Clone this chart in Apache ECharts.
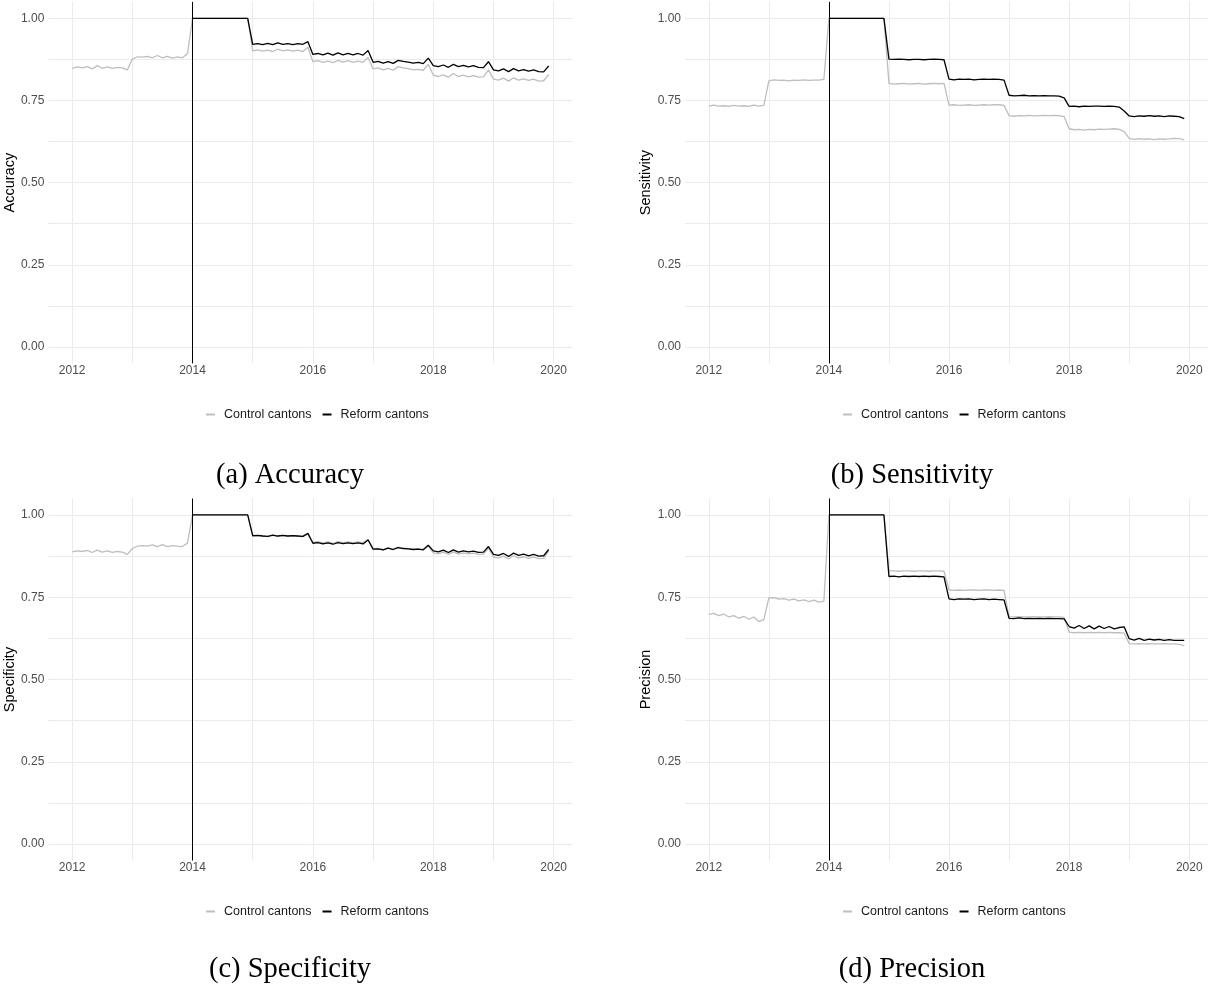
<!DOCTYPE html>
<html>
<head>
<meta charset="utf-8">
<script src="https://cdn.jsdelivr.net/npm/echarts@6/dist/echarts.min.js"></script>
<style>
html,body{margin:0;padding:0;background:#fff;}
#chart{width:1208px;height:987px;}
</style>
</head>
<body>
<div id="chart"></div>
<script>
// ---- data (monthly: control 2012-01..2019-12, reform 2014-01..2019-12) ----
const xTickLabels = [2012, 2014, 2016, 2018, 2020];
const xGridYears = [2012, 2013, 2014, 2015, 2016, 2017, 2018, 2019, 2020];
const yTickLabels = [0, 0.25, 0.5, 0.75, 1];
const yGridValues = [0, 0.125, 0.25, 0.375, 0.5, 0.625, 0.75, 0.875, 1];
const reformYear = 2014;
const seriesNames = ['Control cantons', 'Reform cantons'];
const panelTitles = ['Accuracy', 'Sensitivity', 'Specificity', 'Precision'];
const captions = ['(a) Accuracy', '(b) Sensitivity', '(c) Specificity', '(d) Precision'];

const accControl = [
  0.848,0.852,0.849,0.853,0.846,0.856,0.848,0.852,0.848,0.851,0.849,0.843,
  0.876,0.883,0.882,0.884,0.880,0.887,0.880,0.884,0.879,0.883,0.880,0.893,
  1,1,1,1,1,1,1,1,1,1,1,1,
  0.901,0.904,0.900,0.903,0.899,0.906,0.901,0.904,0.900,0.903,0.899,0.912,
  0.868,0.871,0.866,0.870,0.865,0.872,0.867,0.871,0.866,0.870,0.866,0.881,
  0.846,0.849,0.843,0.848,0.842,0.853,0.849,0.847,0.843,0.845,0.842,0.860,
  0.827,0.823,0.828,0.821,0.832,0.823,0.827,0.822,0.826,0.821,0.822,0.843,
  0.815,0.812,0.818,0.809,0.819,0.812,0.816,0.811,0.815,0.809,0.810,0.829
];
const accReform = [
  1,1,1,1,1,1,1,1,1,1,1,1,
  0.921,0.923,0.920,0.924,0.920,0.925,0.921,0.923,0.920,0.923,0.921,0.929,
  0.890,0.893,0.889,0.894,0.888,0.895,0.889,0.893,0.889,0.893,0.888,0.902,
  0.866,0.869,0.864,0.868,0.863,0.872,0.869,0.867,0.864,0.866,0.862,0.879,
  0.856,0.853,0.858,0.851,0.860,0.853,0.857,0.852,0.856,0.851,0.850,0.868,
  0.843,0.840,0.846,0.838,0.847,0.840,0.844,0.839,0.843,0.838,0.837,0.855
];
const sensControl = [
  0.733,0.736,0.733,0.734,0.732,0.735,0.733,0.734,0.732,0.736,0.733,0.735,
  0.810,0.813,0.811,0.812,0.810,0.812,0.811,0.813,0.811,0.812,0.812,0.814,
  1,1,1,1,1,1,1,1,1,1,1,1,
  0.802,0.800,0.801,0.802,0.800,0.801,0.802,0.800,0.801,0.802,0.801,0.802,
  0.736,0.737,0.735,0.736,0.737,0.735,0.736,0.737,0.736,0.737,0.737,0.735,
  0.704,0.702,0.704,0.703,0.705,0.703,0.704,0.705,0.704,0.705,0.704,0.701,
  0.664,0.661,0.662,0.660,0.662,0.661,0.663,0.662,0.663,0.664,0.662,0.655,
  0.635,0.632,0.634,0.632,0.633,0.631,0.633,0.632,0.633,0.635,0.634,0.630
];
const sensReform = [
  1,1,1,1,1,1,1,1,1,1,1,1,
  0.876,0.875,0.876,0.875,0.874,0.875,0.875,0.874,0.875,0.876,0.875,0.874,
  0.815,0.813,0.815,0.814,0.815,0.813,0.814,0.815,0.814,0.815,0.814,0.812,
  0.766,0.764,0.765,0.766,0.764,0.765,0.764,0.765,0.764,0.764,0.763,0.758,
  0.732,0.733,0.731,0.733,0.732,0.733,0.733,0.732,0.733,0.732,0.730,0.718,
  0.703,0.701,0.703,0.702,0.704,0.702,0.703,0.701,0.703,0.702,0.701,0.695
];
const specControl = [
  0.888,0.891,0.889,0.892,0.886,0.893,0.887,0.891,0.886,0.889,0.887,0.880,
  0.898,0.905,0.907,0.905,0.909,0.904,0.910,0.904,0.907,0.905,0.904,0.915,
  1,1,1,1,1,1,1,1,1,1,1,1,
  0.935,0.937,0.936,0.934,0.938,0.935,0.937,0.935,0.936,0.935,0.934,0.942,
  0.917,0.919,0.915,0.918,0.914,0.919,0.916,0.918,0.916,0.918,0.916,0.926,
  0.897,0.898,0.895,0.900,0.896,0.902,0.899,0.898,0.896,0.897,0.895,0.906,
  0.885,0.882,0.887,0.880,0.888,0.881,0.885,0.882,0.884,0.880,0.881,0.900,
  0.872,0.869,0.875,0.866,0.876,0.869,0.873,0.868,0.872,0.867,0.868,0.890
];
const specReform = [
  1,1,1,1,1,1,1,1,1,1,1,1,
  0.937,0.938,0.936,0.935,0.939,0.936,0.938,0.936,0.937,0.936,0.935,0.944,
  0.914,0.916,0.912,0.915,0.911,0.916,0.913,0.915,0.913,0.915,0.912,0.924,
  0.896,0.897,0.894,0.899,0.895,0.901,0.898,0.897,0.895,0.896,0.894,0.908,
  0.891,0.888,0.893,0.886,0.894,0.887,0.891,0.888,0.890,0.886,0.887,0.904,
  0.880,0.877,0.883,0.874,0.884,0.877,0.881,0.876,0.880,0.875,0.876,0.895
];
const precControl = [
  0.698,0.701,0.694,0.699,0.690,0.694,0.686,0.692,0.683,0.690,0.676,0.682,
  0.748,0.749,0.744,0.746,0.741,0.744,0.739,0.742,0.737,0.741,0.735,0.738,
  1,1,1,1,1,1,1,1,1,1,1,1,
  0.830,0.830,0.829,0.830,0.830,0.829,0.830,0.830,0.829,0.830,0.830,0.829,
  0.772,0.771,0.772,0.771,0.772,0.772,0.771,0.772,0.772,0.771,0.772,0.771,
  0.690,0.690,0.691,0.690,0.690,0.691,0.690,0.690,0.691,0.690,0.690,0.689,
  0.644,0.642,0.643,0.642,0.643,0.642,0.643,0.642,0.643,0.642,0.642,0.641,
  0.609,0.608,0.609,0.608,0.609,0.608,0.608,0.609,0.608,0.608,0.607,0.603
];
const precReform = [
  1,1,1,1,1,1,1,1,1,1,1,1,
  0.813,0.814,0.812,0.814,0.813,0.814,0.813,0.814,0.813,0.814,0.813,0.812,
  0.745,0.743,0.745,0.744,0.745,0.743,0.744,0.745,0.743,0.744,0.743,0.742,
  0.686,0.685,0.687,0.685,0.686,0.685,0.686,0.685,0.686,0.685,0.685,0.684,
  0.661,0.656,0.664,0.655,0.663,0.654,0.662,0.655,0.661,0.654,0.658,0.660,
  0.624,0.620,0.625,0.619,0.623,0.620,0.622,0.619,0.621,0.619,0.619,0.619
];
const controlStart = 2012;
const reformStart = 2014;

// ---- build chart ----
const panels = [
  {control: accControl, reform: accReform},
  {control: sensControl, reform: sensReform},
  {control: specControl, reform: specReform},
  {control: precControl, reform: precReform}
];
function toPairs(arr, startYear) {
  return arr.map((v, i) => [startYear + i / 12, v]);
}
// ggplot-like 5% expansion of the x data range
const xDataMin = controlStart, xDataMax = controlStart + (accControl.length - 1) / 12;
const xPad = (xDataMax - xDataMin) * 0.05;
const xMin = xDataMin - xPad, xMax = xDataMax + xPad;

const gridPos = [
  {left: 48.3, top: 1.9, width: 524.2, height: 361.5},
  {left: 685, top: 1.9, width: 524.2, height: 361.5},
  {left: 48.3, top: 498.5, width: 524.2, height: 362},
  {left: 685, top: 498.5, width: 524.2, height: 362}
];
const legendPos = [
  {left: 201, top: 403},
  {left: 838, top: 403},
  {left: 201, top: 900},
  {left: 838, top: 900}
];
const captionPos = [[290, 475.5], [912, 475.5], [290, 970], [912, 970]];

const FONT = 'Liberation Sans, Arial, sans-serif';
const grids = [], xAxes = [], yAxes = [], series = [], legends = [], graphics = [];
panels.forEach((p, k) => {
  grids.push(Object.assign({containLabel: false}, gridPos[k]));
  xAxes.push({
    type: 'value', gridIndex: k, min: xMin, max: xMax,
    axisLine: {show: false},
    axisTick: {show: false, customValues: xGridYears},
    axisLabel: {customValues: xTickLabels, color: '#4d4d4d', fontSize: 12, margin: 1.5, fontFamily: FONT,
      formatter: v => String(Math.round(v))},
    splitLine: {show: true, lineStyle: {color: '#ebebeb', width: 1}}
  });
  yAxes.push({
    type: 'value', gridIndex: k, min: -0.05, max: 1.05,
    name: panelTitles[k], nameLocation: 'middle', nameGap: 29, nameRotate: 90,
    nameTextStyle: {color: '#000', fontSize: 14.5, fontFamily: FONT},
    axisLine: {show: false},
    axisTick: {show: false, customValues: yGridValues},
    axisLabel: {customValues: yTickLabels, color: '#4d4d4d', fontSize: 12, margin: 4, fontFamily: FONT,
      formatter: v => v.toFixed(2)},
    splitLine: {show: true, lineStyle: {color: '#ebebeb', width: 1}}
  });
  series.push({
    name: seriesNames[0], type: 'line', xAxisIndex: k, yAxisIndex: k,
    data: toPairs(p.control, controlStart), showSymbol: false, symbol: 'none',
    lineStyle: {color: '#bebebe', width: 1.3}, itemStyle: {color: '#bebebe'}, z: 2
  });
  series.push({
    name: seriesNames[1], type: 'line', xAxisIndex: k, yAxisIndex: k,
    data: toPairs(p.reform, reformStart), showSymbol: false, symbol: 'none',
    lineStyle: {color: '#000', width: 1.3}, itemStyle: {color: '#000'}, z: 3,
    markLine: {
      silent: true, symbol: 'none', animation: false,
      label: {show: false},
      lineStyle: {color: '#000', width: 1, type: 'solid'},
      data: [{xAxis: reformYear}]
    }
  });
  legends.push({
    data: seriesNames, left: legendPos[k].left, top: legendPos[k].top,
    icon: 'rect', itemWidth: 9, itemHeight: 2, itemGap: 11, selectedMode: false,
    textStyle: {fontSize: 12.5, color: '#1a1a1a', fontFamily: FONT, padding: [0, 0, 0, 4]}
  });
  graphics.push({
    type: 'text', x: captionPos[k][0], y: captionPos[k][1],
    style: {text: captions[k], fontFamily: 'Liberation Serif, Times New Roman, serif', fontSize: 28.5,
      fill: '#000', textAlign: 'center', textVerticalAlign: 'middle'}
  });
});

const chart = echarts.init(document.getElementById('chart'), null, {renderer: 'canvas'});
chart.setOption({
  animation: false,
  backgroundColor: '#fff',
  grid: grids, xAxis: xAxes, yAxis: yAxes, series: series,
  legend: legends, graphic: graphics
});
</script>
</body>
</html>
